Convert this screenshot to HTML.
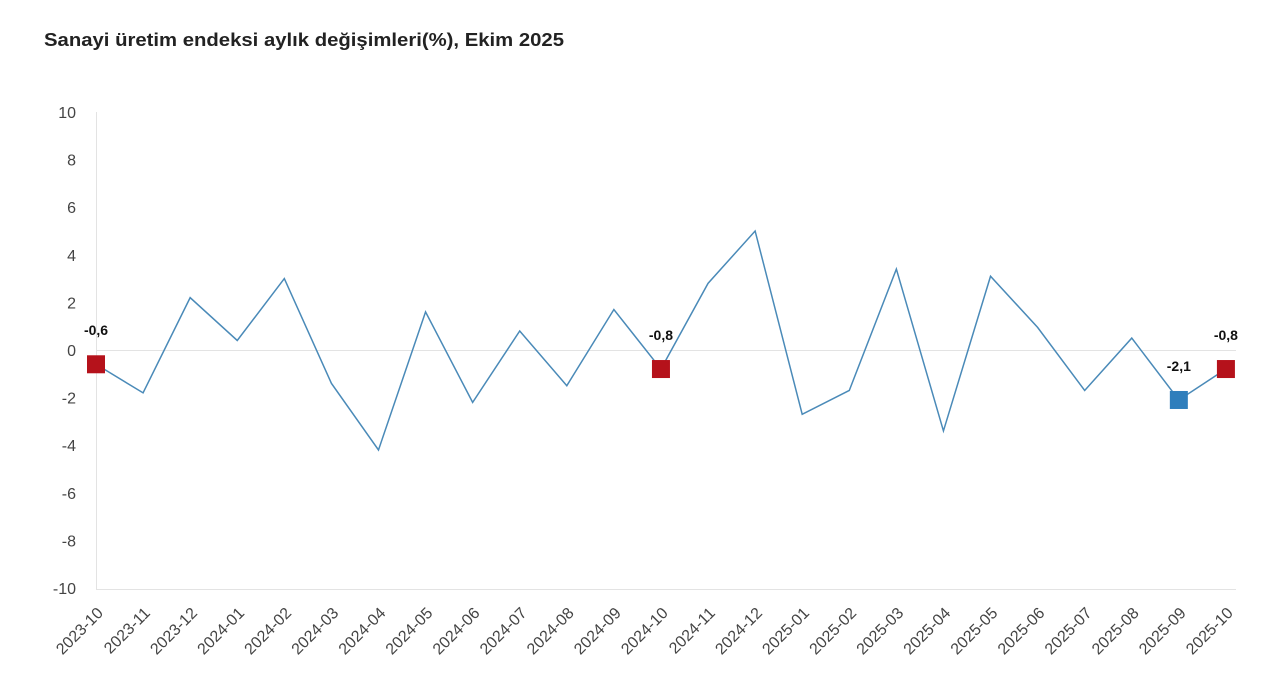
<!DOCTYPE html>
<html><head><meta charset="utf-8"><style>body{margin:0;background:#fff}svg{display:block}text{font-family:"Liberation Sans",sans-serif}</style></head><body>
<svg width="1280" height="698" xmlns="http://www.w3.org/2000/svg">
<text x="44" y="46" font-size="18" font-weight="bold" fill="#222" textLength="520" lengthAdjust="spacingAndGlyphs">Sanayi üretim endeksi aylık değişimleri(%), Ekim 2025</text>
<line x1="96.5" y1="112" x2="96.5" y2="589" stroke="#e3e3e3"/>
<line x1="96" y1="589.5" x2="1236" y2="589.5" stroke="#e3e3e3"/>
<line x1="96" y1="350.5" x2="1236" y2="350.5" stroke="#e3e3e3"/>
<g font-size="16" fill="#444" text-anchor="end">
<text x="76" y="118">10</text><text x="76" y="165.6">8</text><text x="76" y="213.2">6</text><text x="76" y="260.8">4</text><text x="76" y="308.4">2</text><text x="76" y="356">0</text><text x="76" y="403.6">-2</text><text x="76" y="451.2">-4</text><text x="76" y="498.8">-6</text><text x="76" y="546.4">-8</text><text x="76" y="594">-10</text>
</g>
<polyline fill="none" stroke="#4a8ab8" stroke-width="1.5" points="96,364.28 143.08,392.84 190.16,297.64 237.24,340.48 284.32,278.6 331.4,383.32 378.48,449.96 425.56,311.92 472.64,402.36 519.72,330.96 566.8,385.7 613.88,309.54 660.96,369.04 708.04,283.36 755.12,231 802.2,414.26 849.28,390.46 896.36,269.08 943.44,430.92 990.52,276.22 1037.6,327.39 1084.68,390.46 1131.76,338.1 1178.84,399.98 1225.92,369.04"/>
<g font-size="16" fill="#444" text-anchor="end">
<text transform="translate(104,614) rotate(-45)">2023-10</text>
<text transform="translate(151.08,614) rotate(-45)">2023-11</text>
<text transform="translate(198.16,614) rotate(-45)">2023-12</text>
<text transform="translate(245.24,614) rotate(-45)">2024-01</text>
<text transform="translate(292.32,614) rotate(-45)">2024-02</text>
<text transform="translate(339.4,614) rotate(-45)">2024-03</text>
<text transform="translate(386.48,614) rotate(-45)">2024-04</text>
<text transform="translate(433.56,614) rotate(-45)">2024-05</text>
<text transform="translate(480.64,614) rotate(-45)">2024-06</text>
<text transform="translate(527.72,614) rotate(-45)">2024-07</text>
<text transform="translate(574.8,614) rotate(-45)">2024-08</text>
<text transform="translate(621.88,614) rotate(-45)">2024-09</text>
<text transform="translate(668.96,614) rotate(-45)">2024-10</text>
<text transform="translate(716.04,614) rotate(-45)">2024-11</text>
<text transform="translate(763.12,614) rotate(-45)">2024-12</text>
<text transform="translate(810.2,614) rotate(-45)">2025-01</text>
<text transform="translate(857.28,614) rotate(-45)">2025-02</text>
<text transform="translate(904.36,614) rotate(-45)">2025-03</text>
<text transform="translate(951.44,614) rotate(-45)">2025-04</text>
<text transform="translate(998.52,614) rotate(-45)">2025-05</text>
<text transform="translate(1045.6,614) rotate(-45)">2025-06</text>
<text transform="translate(1092.68,614) rotate(-45)">2025-07</text>
<text transform="translate(1139.76,614) rotate(-45)">2025-08</text>
<text transform="translate(1186.84,614) rotate(-45)">2025-09</text>
<text transform="translate(1233.92,614) rotate(-45)">2025-10</text>
</g>
<rect x="87" y="355.28" width="18" height="18" fill="#b5121b"/>
<rect x="651.96" y="360.04" width="18" height="18" fill="#b5121b"/>
<rect x="1169.84" y="390.98" width="18" height="18" fill="#2f7ebc"/>
<rect x="1216.92" y="360.04" width="18" height="18" fill="#b5121b"/>
<g font-size="14" font-weight="bold" fill="#111" text-anchor="middle">
<text x="96" y="335">-0,6</text>
<text x="660.96" y="340">-0,8</text>
<text x="1178.84" y="371">-2,1</text>
<text x="1225.92" y="340">-0,8</text>
</g>
</svg></body></html>
